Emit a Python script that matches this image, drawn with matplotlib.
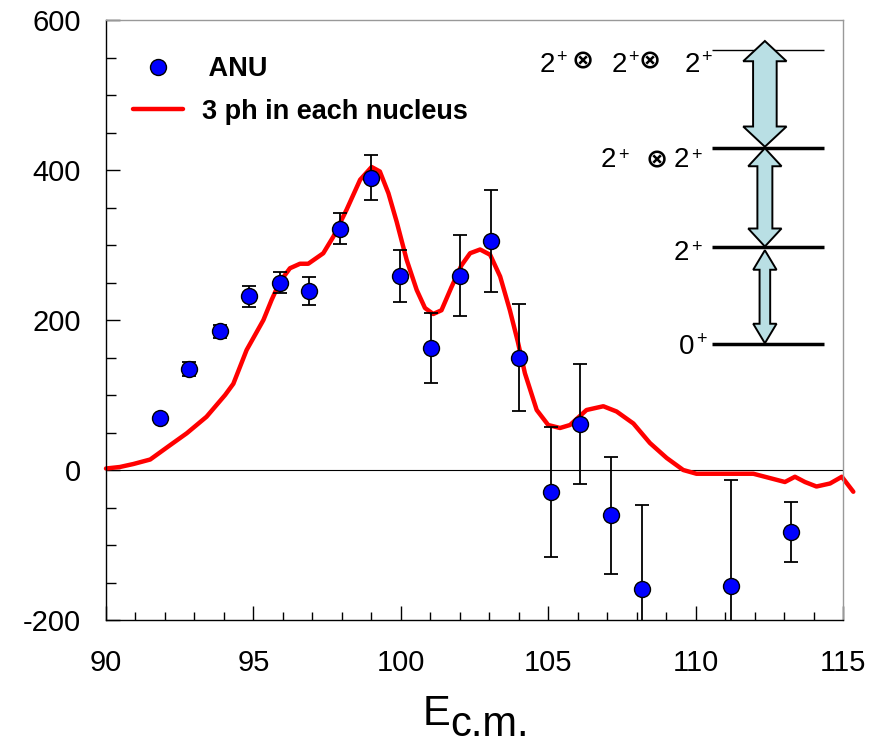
"""Excitation function with ANU data and 3-phonon calculation, plus level scheme inset."""
import matplotlib
matplotlib.use("Agg")
import matplotlib.pyplot as plt
from matplotlib.patches import Polygon
from matplotlib.ticker import MultipleLocator

plt.rcParams["font.family"] = ["Liberation Sans", "DejaVu Sans"]
plt.rcParams["axes.unicode_minus"] = False

# --- data -------------------------------------------------------------
anu_x = [91.83, 92.82, 93.87, 94.85, 95.9, 96.9, 97.94, 98.98, 99.97, 101.02,
         102.0, 103.06, 104.0, 105.08, 106.08, 107.13, 108.17, 111.19, 113.23]
anu_y = [69, 135, 185, 232, 250, 239, 322, 390, 259, 163,
         259, 305, 150, -29, 62, -60, -159, -154, -82]
anu_err = [4, 9, 9, 14, 14, 19, 21, 30, 35, 47,
           54, 68, 71, 87, 80, 78, 112, 141, 40]

curve_x = [90.0, 90.47, 90.93, 91.5, 92.17, 92.74, 93.41, 94.04, 94.32, 94.77,
           95.34, 95.62, 95.9, 96.24, 96.58, 96.86, 97.37, 97.71, 98.16, 98.62,
           99.01, 99.29, 99.58, 99.86, 100.2, 100.54, 100.82, 101.1, 101.38, 101.72,
           102.06, 102.35, 102.69, 103.03, 103.37, 103.7, 103.97, 104.21, 104.61, 105.0,
           105.4, 105.74, 106.3, 106.87, 107.32, 107.89, 108.45, 109.02, 109.58, 110.03,
           111.96, 113.03, 113.37, 113.71, 114.1, 114.56, 114.96, 115.35]
curve_y = [2, 4, 8, 14, 33, 49, 71, 100, 115, 160,
           200, 227, 251, 269, 275, 275, 289, 311, 347, 387,
           404, 398, 369, 331, 280, 240, 216, 208, 213, 244,
           273, 289, 294, 287, 258, 213, 171, 129, 80, 60,
           56, 60, 80, 85, 78, 62, 36, 16, 0, -5,
           -5, -16, -9, -16, -22, -18, -9, -29]

# level scheme (drawn in data units of the main axes)
level_y = [560, 430, 297, 168]
level_lw = [1.0, 2.5, 2.5, 2.5]
arrow_tips = [(572, 431), (429, 298), (293, 169)]
arrow_head_hw = [0.735, 0.565, 0.396]
arrow_shaft_hw = [0.40, 0.254, 0.18]
arrow_head_len = [27, 24, 26]

W, H = 879, 746
fig = plt.figure(figsize=(W / 100, H / 100), dpi=100)
ax = fig.add_axes([106 / W, 1 - 620 / H, 737 / W, 600 / H])


def fxy(px, py):
    return px / W, 1 - py / H


def double_arrow(ax, xc, y_top, y_bot, hw, sw, hl):
    pts = [(xc, y_top), (xc + hw, y_top - hl), (xc + sw, y_top - hl),
           (xc + sw, y_bot + hl), (xc + hw, y_bot + hl), (xc, y_bot),
           (xc - hw, y_bot + hl), (xc - sw, y_bot + hl), (xc - sw, y_top - hl),
           (xc - hw, y_top - hl)]
    ax.add_patch(Polygon(pts, closed=True, facecolor="#b9dfe4",
                         edgecolor="black", lw=1.4, zorder=5, clip_on=False))


# --- main plot --------------------------------------------------------
ax.axhline(0, color="black", lw=0.8, zorder=1)
ax.plot(curve_x, curve_y, color="#ff0000", lw=3.2, solid_joinstyle="round",
        solid_capstyle="round", zorder=2, clip_on=False,
        label="3 ph in each nucleus")
ax.errorbar(anu_x, anu_y, yerr=anu_err, fmt="none", ecolor="black",
            elinewidth=1.3, capsize=5, capthick=1.3, zorder=3)
ax.plot(anu_x, anu_y, "o", color="#0000ff", mec="black", mew=1.0, ms=11.5,
        zorder=4, linestyle="none", label=" ANU")

ax.set_xlim(90, 115)
ax.set_ylim(-200, 600)
ax.xaxis.set_major_locator(MultipleLocator(5))
ax.xaxis.set_minor_locator(MultipleLocator(1))
ax.yaxis.set_major_locator(MultipleLocator(200))
ax.yaxis.set_minor_locator(MultipleLocator(50))
ax.tick_params(which="both", direction="in", top=False, right=False,
               labelsize=21, width=1.0)
ax.tick_params(axis="x", which="major", length=10, pad=21)
ax.tick_params(axis="x", which="minor", length=6)
ax.tick_params(axis="y", which="major", length=10, pad=18)
ax.tick_params(axis="y", which="minor", length=7)
for side in ("left", "bottom"):
    ax.spines[side].set_color("black")
    ax.spines[side].set_linewidth(1.0)
for side in ("top", "right"):
    ax.spines[side].set_color("#999999")
    ax.spines[side].set_linewidth(1.0)

handles, labels = ax.get_legend_handles_labels()
ax.legend(handles[::-1], labels[::-1], loc="upper left",
          bbox_to_anchor=(0.036, 0.94), frameon=False, borderpad=0,
          borderaxespad=0, handlelength=1.85, handletextpad=0.72,
          labelspacing=0.62,
          prop={"family": "Liberation Sans", "weight": "bold", "size": 19.5})

# x label: "E" with same-size lowered "c.m."
fig.text(*fxy(423, 725), "E", fontsize=30, va="baseline")
fig.text(*fxy(450, 745), "c.m.", fontsize=30, va="bottom")

# --- level scheme inset ----------------------------------------------
ax.hlines(level_y, 110.55, 114.36, colors="black", lw=level_lw, zorder=4)
for (yt, yb), hw, sw, hl in zip(arrow_tips, arrow_head_hw, arrow_shaft_hw,
                                arrow_head_len):
    double_arrow(ax, 112.35, yt, yb, hw, sw, hl)

digits = [(540, 71.7, "2"), (612, 71.7, "2"), (685, 71.7, "2"),
          (601, 166.7, "2"), (674, 166.7, "2"),
          (674, 260, "2"), (679, 354, "0")]
pluses = [(556, 57), (628, 57), (701, 57), (618, 155), (691, 155),
          (691, 247), (696, 339)]
otimes = [(583, 61.5), (650, 61.5), (657, 160)]
for px, py, s in digits:
    fig.text(*fxy(px, py), s, fontsize=20, va="baseline")
for px, py in pluses:
    fig.text(*fxy(px, py), "+", fontsize=13, va="center")
for px, py in otimes:
    fig.text(*fxy(px, py), "\u2297", fontsize=19, family="DejaVu Sans",
             weight="bold", ha="center", va="center")

fig.savefig("out.png", dpi=100)
